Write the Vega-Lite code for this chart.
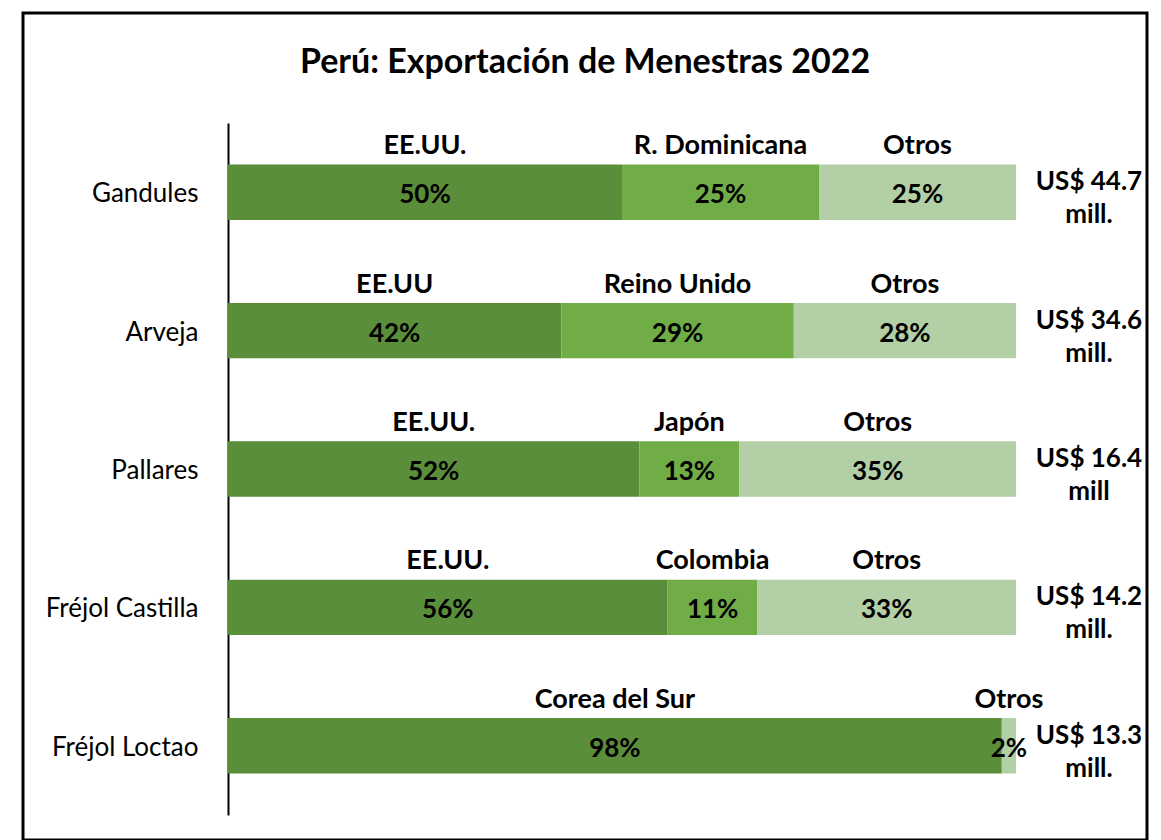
{
  "$schema": "https://vega.github.io/schema/vega-lite/v6.json",
  "width": 1124,
  "height": 827,
  "autosize": {"type": "none"},
  "padding": {"left": 23, "top": 13, "right": 14, "bottom": 0},
  "background": "white",
  "title": {
    "text": "Perú: Exportación de Menestras 2022",
    "font": "Lato",
    "fontSize": 34,
    "fontWeight": "bold",
    "color": "#000000",
    "anchor": "middle",
    "baseline": "alphabetic",
    "offset": -94
  },
  "datasets": {
    "shares": [
      {"cat": "Gandules", "pais": "EE.UU.", "pct": 50.0, "lbl": "50%", "rank": 1},
      {"cat": "Gandules", "pais": "R. Dominicana", "pct": 25.0, "lbl": "25%", "rank": 2},
      {"cat": "Gandules", "pais": "Otros", "pct": 25.0, "lbl": "25%", "rank": 3},
      {"cat": "Arveja", "pais": "EE.UU", "pct": 42.3, "lbl": "42%", "rank": 1},
      {"cat": "Arveja", "pais": "Reino Unido", "pct": 29.5, "lbl": "29%", "rank": 2},
      {"cat": "Arveja", "pais": "Otros", "pct": 28.2, "lbl": "28%", "rank": 3},
      {"cat": "Pallares", "pais": "EE.UU.", "pct": 52.2, "lbl": "52%", "rank": 1},
      {"cat": "Pallares", "pais": "Japón", "pct": 12.7, "lbl": "13%", "rank": 2},
      {"cat": "Pallares", "pais": "Otros", "pct": 35.1, "lbl": "35%", "rank": 3},
      {"cat": "Fréjol Castilla", "pais": "EE.UU.", "pct": 55.8, "lbl": "56%", "rank": 1},
      {"cat": "Fréjol Castilla", "pais": "Colombia", "pct": 11.4, "lbl": "11%", "rank": 2},
      {"cat": "Fréjol Castilla", "pais": "Otros", "pct": 32.8, "lbl": "33%", "rank": 3},
      {"cat": "Fréjol Loctao", "pais": "Corea del Sur", "pct": 98.2, "lbl": "98%", "rank": 1},
      {"cat": "Fréjol Loctao", "pais": "Otros", "pct": 1.8, "lbl": "2%", "rank": 3}
    ],
    "totals": [
      {"cat": "Gandules", "total": "US$ 44.7\nmill."},
      {"cat": "Arveja", "total": "US$ 34.6\nmill."},
      {"cat": "Pallares", "total": "US$ 16.4\nmill"},
      {"cat": "Fréjol Castilla", "total": "US$ 14.2\nmill."},
      {"cat": "Fréjol Loctao", "total": "US$ 13.3\nmill."}
    ]
  },
  "data": {"name": "shares"},
  "layer": [
    {
      "mark": {"type": "bar"},
      "encoding": {
        "x": {
          "field": "pct",
          "type": "quantitative",
          "stack": "zero",
          "scale": {"domain": [0, 100], "range": [205, 993], "nice": false, "zero": true},
          "axis": null
        },
        "y": {
          "field": "cat",
          "type": "nominal",
          "sort": null,
          "scale": {"range": [110, 802], "paddingInner": 0.6, "paddingOuter": 0.3, "align": 0.5},
          "axis": {
            "title": null,
            "offset": -205,
            "ticks": false,
            "domainColor": "#000000",
            "domainWidth": 2,
            "labelFont": "Lato",
            "labelFontSize": 26,
            "labelColor": "#000000",
            "labelPadding": 30,
            "labelOffset": 2,
            "labelLimit": 300
          }
        },
        "color": {
          "field": "rank",
          "type": "nominal",
          "scale": {"domain": [1, 2, 3], "range": ["#5B8E3A", "#70AD47", "#B3CFA6"]},
          "legend": null
        },
        "order": {"field": "rank", "type": "quantitative"}
      }
    },
    {
      "transform": [
        {"stack": "pct", "groupby": ["cat"], "sort": [{"field": "rank"}], "as": ["p0", "p1"]},
        {"calculate": "(datum.p0 + datum.p1) / 2", "as": "mid"}
      ],
      "mark": {"type": "text", "font": "Lato", "fontSize": 26, "fontWeight": "bold", "color": "#000000", "baseline": "middle", "align": "center", "dy": 3},
      "encoding": {
        "x": {"field": "mid", "type": "quantitative"},
        "y": {"field": "cat", "type": "nominal", "sort": null},
        "text": {"field": "lbl"}
      }
    },
    {
      "transform": [
        {"stack": "pct", "groupby": ["cat"], "sort": [{"field": "rank"}], "as": ["p0", "p1"]},
        {"calculate": "(datum.p0 + datum.p1) / 2", "as": "mid"}
      ],
      "mark": {"type": "text", "font": "Lato", "fontSize": 27, "fontWeight": "bold", "color": "#000000", "baseline": "middle", "align": "center", "dy": -46},
      "encoding": {
        "x": {"field": "mid", "type": "quantitative"},
        "y": {"field": "cat", "type": "nominal", "sort": null},
        "text": {"field": "pais"}
      }
    },
    {
      "data": {"name": "totals"},
      "mark": {"type": "text", "font": "Lato", "fontSize": 26, "fontWeight": "bold", "color": "#000000", "baseline": "middle", "align": "center", "dx": 73, "dy": -10, "lineBreak": "\n", "lineHeight": 33},
      "encoding": {
        "x": {"datum": 100, "type": "quantitative"},
        "y": {"field": "cat", "type": "nominal", "sort": null},
        "text": {"field": "total"}
      }
    }
  ],
  "config": {
    "view": {"stroke": "#000000", "strokeWidth": 3},
    "font": "Lato"
  }
}
